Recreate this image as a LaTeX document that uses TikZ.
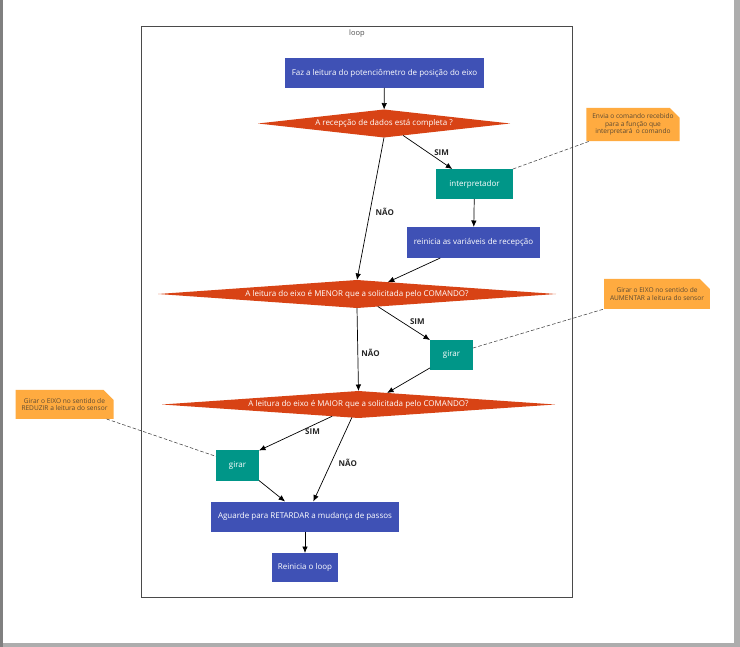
\documentclass[tikz,border=0pt]{standalone}
\usepackage{fontspec}
\setmainfont{Open Sans}
\usetikzlibrary{shapes.geometric,shapes.misc,arrows.meta,positioning}

\definecolor{stepblue}{HTML}{3F51B5}
\definecolor{callteal}{HTML}{009688}
\definecolor{askred}{HTML}{D84315}
\definecolor{noteorange}{HTML}{FFAB40}
\definecolor{notetext}{HTML}{5C4A33}
\definecolor{framegray}{HTML}{4A4A4A}

\tikzset{
  base/.style={outer sep=0pt, inner sep=2pt, text=white,
               font=\fontsize{8}{9.5}\selectfont},
  action/.style={base, rectangle, fill=stepblue},
  call/.style={base, rectangle, fill=callteal},
  ask/.style={base, diamond, fill=askred, inner sep=0pt},
  memo/.style={chamfered rectangle, chamfered rectangle corners=north east,
               chamfered rectangle xsep=5pt, chamfered rectangle ysep=5pt,
               fill=noteorange, text=notetext, align=center, outer sep=0pt,
               inner sep=1pt, font=\fontsize{6.6}{7.4}\selectfont},
  flow/.style={-{Latex[length=6.5pt,width=5.5pt]}, line width=0.7pt},
  tag/.style={font=\bfseries\fontsize{8}{9}\selectfont, text=black!85},
  link/.style={line width=0.55pt, black!75, dash pattern=on 3.5pt off 2pt}
}

\begin{document}
\begin{tikzpicture}[x=1pt,y=-1pt]
  \useasboundingbox (0,0) rectangle (740,647);

  % page
  \fill[black!32] (0,0) rectangle (740,647);
  \fill[black!50] (0,0) rectangle (3,647);
  \fill[white] (3,0) rectangle (734,643);

  % loop frame
  \node[draw=framegray, line width=0.8pt, minimum width=431pt,
        minimum height=571pt, outer sep=0pt, inner sep=0pt]
        (loopframe) at (357,311.5) {};
  \node[font=\fontsize{7.5}{8.5}\selectfont, text=black!70,
        below=0pt of loopframe.north] (looplbl) {loop};

  % main flow
  \node[action, minimum width=199pt, minimum height=30pt] (leitura) at (384.5,73)
    {Faz a leitura do potenciômetro de posição do eixo};
  \node[ask, shape aspect=9, minimum width=252pt, minimum height=28pt]
    (recebido) at (384,123.5) {A recepção de dados está completa ?};
  \node[call, minimum width=77pt, minimum height=30pt] (interp) at (474.5,184)
    {interpretador};
  \node[action, minimum width=133pt, minimum height=31pt] (zerar) at (473.5,242.5)
    {reinicia as variáveis de recepção};
  \node[ask, shape aspect=14.2, minimum width=398pt, minimum height=28pt]
    (menor) at (357,294) {A leitura do eixo é MENOR que a solicitada pelo COMANDO?};
  \node[call, minimum width=43pt, minimum height=30pt] (girarA) at (451.5,355) {girar};
  \node[ask, shape aspect=14.5, minimum width=393pt, minimum height=27pt]
    (maior) at (358.5,404.5) {A leitura do eixo é MAIOR que a solicitada pelo COMANDO?};
  \node[call, minimum width=43pt, minimum height=30pt] (girarR) at (237.5,465.5) {girar};
  \node[action, minimum width=188pt, minimum height=30pt] (aguarde) at (305,516.5)
    {Aguarde para RETARDAR a mudança de passos};
  \node[action, minimum width=66pt, minimum height=29pt] (fim) at (305,567.5)
    {Reinicia o loop};

  % notes
  \node[memo, minimum width=90pt, minimum height=29pt] (notaA) at (633,124.5)
    {Envia o comando recebido\\para a função que\\interpretará\ \ o comando};
  \node[memo, minimum width=104pt, minimum height=30pt] (notaB) at (657,294)
    {Girar o EIXO no sentido de\\AUMENTAR a leitura do sensor};
  \node[memo, minimum width=92pt, minimum height=29pt] (notaC) at (64.5,404.5)
    {Girar o EIXO no sentido de\\REDUZIR a leitura do sensor};

  % connectors
  \draw[flow] (leitura) -- (recebido);
  \draw[flow] (recebido.-32) -- node[tag, midway, right=3pt] {SIM} (interp.146);
  \draw[flow] (recebido.south) -- node[tag, pos=0.52, right=2pt] {NÃO} (menor.north);
  \draw[flow] (interp) -- (zerar);
  \draw[flow] (zerar.205) -- (menor.21);
  \draw[flow] (menor.-31) -- node[tag, pos=0.45, right=5pt] {SIM} (girarA.north west);
  \draw[flow] (menor.south) -- node[tag, pos=0.54, right=0pt] {NÃO} (maior.north);
  \draw[flow] (girarA.211) -- (maior.22);
  \draw[flow] (maior.204) -- node[tag, pos=0.46, right=3pt] {SIM} (girarR.north east);
  \draw[flow] (maior.243) -- node[tag, pos=0.54, right=4pt] {NÃO} (aguarde.61);
  \draw[flow] (girarR.south east) -- (aguarde.143);
  \draw[flow] (aguarde) -- (fim);

  \draw[link] (interp.north east) -- (notaA.201);
  \draw[link] (girarA.18) -- (notaB.south west);
  \draw[link] (notaC.-19) -- (girarR.157);
\end{tikzpicture}
\end{document}
